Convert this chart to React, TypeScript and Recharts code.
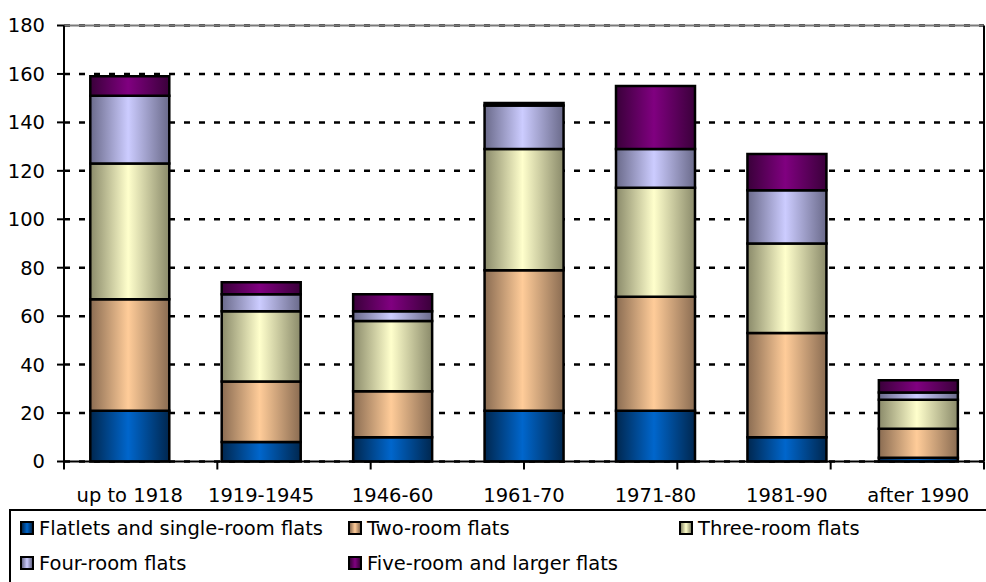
import { Bar, BarChart, CartesianGrid, XAxis, YAxis } from "recharts";

const periods = ["up to 1918", "1919-1945", "1946-60", "1961-70", "1971-80", "1981-90", "after 1990"];

const flatlets = [21, 8, 10, 21, 21, 10, 1.5];
const twoRoom = [46, 25, 19, 58, 47, 43, 12];
const threeRoom = [56, 29, 29, 50, 45, 37, 12];
const fourRoom = [28, 7, 4, 18, 16, 22, 3];
const fiveRoom = [8, 5, 7, 1, 26, 15, 5];

const yTicks = [0, 20, 40, 60, 80, 100, 120, 140, 160, 180];

const seriesNames = [
  "Flatlets and single-room flats",
  "Two-room flats",
  "Three-room flats",
  "Four-room flats",
  "Five-room and larger flats",
];

// light centre / dark edge of each bar's gradient
const seriesColors = [
  { key: "flatlets", light: "#0066CC", dark: "#00274F" },
  { key: "twoRoom", light: "#FFCC99", dark: "#8A6C52" },
  { key: "threeRoom", light: "#FFFFCC", dark: "#8A8A6A" },
  { key: "fourRoom", light: "#CCCCFF", dark: "#6A6A8A" },
  { key: "fiveRoom", light: "#800080", dark: "#3A003A" },
];

const FONT = "'DejaVu Sans', sans-serif";
const FONT_SIZE = 19.5;

const data = periods.map((period, i) => ({
  period,
  flatlets: flatlets[i],
  twoRoom: twoRoom[i],
  threeRoom: threeRoom[i],
  fourRoom: fourRoom[i],
  fiveRoom: fiveRoom[i],
}));

// ticks sit between categories, like the spreadsheet axis
const boundaryTicks = [...periods.map((_, i) => i), periods.length];

// legend grid: [column, row]
const legendSlots = [
  [0, 0],
  [1, 0],
  [2, 0],
  [0, 1],
  [1, 1],
];
const legendCols = [20, 348, 679];
const legendRows = [528, 563];

const NoLabel = () => <g />;

function Legend() {
  return (
    <>
      <div
        style={{
          position: "absolute",
          left: 9,
          top: 509,
          width: 1000,
          height: 100,
          border: "2px solid #000",
          boxSizing: "border-box",
        }}
      />
      {seriesNames.map((name, i) => {
        const [c, r] = legendSlots[i];
        const col = seriesColors[i];
        return (
          <div
            key={name}
            style={{
              position: "absolute",
              left: legendCols[c],
              top: legendRows[r] - 12,
              height: 24,
              display: "flex",
              alignItems: "center",
              fontFamily: FONT,
              fontSize: FONT_SIZE,
              color: "#000",
              whiteSpace: "nowrap",
            }}
          >
            <span
              style={{
                display: "inline-block",
                width: 14,
                height: 14,
                boxSizing: "border-box",
                border: "2px solid #000",
                background: `linear-gradient(to right, ${col.dark}, ${col.light}, ${col.dark})`,
                marginRight: 5,
              }}
            />
            {name}
          </div>
        );
      })}
    </>
  );
}

export default function App() {
  const tickStyle = { fontSize: FONT_SIZE, fill: "#000", fontFamily: FONT };

  return (
    <div
      style={{
        position: "absolute",
        left: 0,
        top: 0,
        width: 986,
        height: 582,
        overflow: "hidden",
        background: "#fff",
      }}
    >
      <BarChart
        width={986}
        height={582}
        data={data}
        barCategoryGap="20%"
        margin={{ top: 24.5, right: 1, left: 0, bottom: 79.5 }}
      >
        <defs>
          {seriesColors.map((c) => (
            <linearGradient key={c.key} id={`g-${c.key}`} x1="0" y1="0" x2="1" y2="0">
              <stop offset="0%" stopColor={c.dark} />
              <stop offset="48%" stopColor={c.light} />
              <stop offset="100%" stopColor={c.dark} />
            </linearGradient>
          ))}
        </defs>
        <CartesianGrid
          xAxisId="cat"
          vertical={false}
          stroke="#000"
          strokeWidth={2.5}
          strokeDasharray="6 9"
        />
        <XAxis
          xAxisId="bnd"
          type="number"
          domain={[0, periods.length]}
          ticks={boundaryTicks}
          interval={0}
          allowDataOverflow
          height={1}
          tick={NoLabel}
          tickSize={8}
          axisLine={{ stroke: "#000", strokeWidth: 2 }}
          tickLine={{ stroke: "#000", strokeWidth: 2 }}
        />
        <XAxis
          xAxisId="cat"
          dataKey="period"
          interval={0}
          height={40}
          axisLine={false}
          tickLine={false}
          tickSize={0}
          tickMargin={25.5}
          tick={tickStyle}
        />
        <XAxis
          xAxisId="top"
          orientation="top"
          type="number"
          domain={[0, 1]}
          allowDataOverflow
          height={1}
          tick={false}
          tickLine={false}
          axisLine={{ stroke: "#7a7a7a", strokeWidth: 2 }}
        />
        <YAxis
          width={64}
          domain={[0, 180]}
          ticks={yTicks}
          interval={0}
          tickSize={7}
          tickMargin={12}
          tick={tickStyle}
          axisLine={{ stroke: "#000", strokeWidth: 2 }}
          tickLine={{ stroke: "#000", strokeWidth: 2 }}
        />
        <YAxis
          yAxisId="r"
          orientation="right"
          width={1}
          domain={[0, 180]}
          allowDataOverflow
          tick={false}
          tickLine={false}
          axisLine={{ stroke: "#000", strokeWidth: 2 }}
        />
        {seriesColors.map((c, i) => (
          <Bar
            key={c.key}
            xAxisId="cat"
            dataKey={c.key}
            name={seriesNames[i]}
            stackId="a"
            fill={`url(#g-${c.key})`}
            stroke="#000"
            strokeWidth={2.5}
            isAnimationActive={false}
          />
        ))}
      </BarChart>
      <Legend />
    </div>
  );
}
